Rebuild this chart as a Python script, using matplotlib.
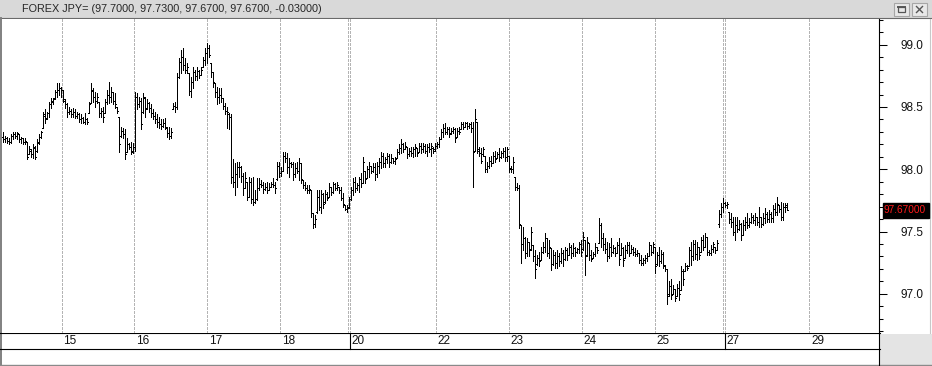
import numpy as np
import matplotlib
matplotlib.use('Agg')
import matplotlib.pyplot as plt
import matplotlib.transforms as mtransforms
from matplotlib.collections import LineCollection
from matplotlib.patches import Rectangle
from matplotlib.ticker import MultipleLocator, FormatStrFormatter

plt.rcParams['font.family'] = ['Liberation Sans', 'DejaVu Sans']

# OHLC bars (open, high, low, close), one list per day block
bars_14 = [
    (98.26, 98.30, 98.22, 98.24), (98.24, 98.27, 98.22, 98.25), (98.25, 98.26, 98.21, 98.23), (98.23, 98.25, 98.20, 98.22),
    (98.22, 98.28, 98.21, 98.27), (98.27, 98.30, 98.24, 98.28), (98.28, 98.30, 98.25, 98.27), (98.27, 98.30, 98.24, 98.29),
    (98.28, 98.28, 98.22, 98.24), (98.24, 98.26, 98.21, 98.25), (98.25, 98.25, 98.20, 98.22), (98.22, 98.25, 98.20, 98.23),
    (98.22, 98.22, 98.08, 98.10), (98.12, 98.19, 98.12, 98.16), (98.15, 98.16, 98.10, 98.12), (98.12, 98.20, 98.09, 98.18),
    (98.17, 98.19, 98.08, 98.10), (98.15, 98.24, 98.14, 98.22), (98.21, 98.28, 98.20, 98.26), (98.26, 98.31, 98.25, 98.30),
    (98.33, 98.46, 98.33, 98.44), (98.43, 98.48, 98.37, 98.40), (98.41, 98.46, 98.40, 98.45), (98.45, 98.54, 98.42, 98.52),
    (98.52, 98.57, 98.49, 98.55), (98.54, 98.57, 98.52, 98.56), (98.57, 98.64, 98.56, 98.62), (98.62, 98.69, 98.58, 98.64),
    (98.64, 98.69, 98.60, 98.65), (98.65, 98.66, 98.58, 98.64),
]
bars_15 = [
    (98.64, 98.64, 98.54, 98.56), (98.55, 98.56, 98.49, 98.52), (98.52, 98.53, 98.42, 98.46), (98.46, 98.50, 98.44, 98.47),
    (98.47, 98.48, 98.42, 98.44), (98.44, 98.49, 98.42, 98.46), (98.46, 98.48, 98.41, 98.43), (98.43, 98.46, 98.41, 98.44),
    (98.44, 98.45, 98.38, 98.40), (98.40, 98.44, 98.37, 98.41), (98.41, 98.42, 98.37, 98.38), (98.38, 98.45, 98.36, 98.40),
    (98.40, 98.41, 98.36, 98.38), (98.45, 98.54, 98.45, 98.52), (98.53, 98.69, 98.53, 98.64), (98.63, 98.65, 98.54, 98.58),
    (98.58, 98.62, 98.50, 98.55), (98.55, 98.61, 98.53, 98.58), (98.54, 98.54, 98.42, 98.45), (98.45, 98.49, 98.42, 98.47),
    (98.47, 98.50, 98.38, 98.42), (98.45, 98.56, 98.45, 98.54), (98.54, 98.64, 98.52, 98.60), (98.60, 98.70, 98.53, 98.58),
    (98.58, 98.66, 98.54, 98.62), (98.62, 98.62, 98.52, 98.55), (98.55, 98.61, 98.49, 98.52), (98.50, 98.50, 98.45, 98.47),
    (98.42, 98.42, 98.14, 98.20), (98.27, 98.34, 98.26, 98.31), (98.31, 98.33, 98.25, 98.28), (98.28, 98.32, 98.08, 98.12),
    (98.14, 98.25, 98.14, 98.20), (98.20, 98.21, 98.16, 98.18), (98.18, 98.22, 98.12, 98.14), (98.15, 98.21, 98.13, 98.18),
]
bars_16 = [
    (98.18, 98.62, 98.15, 98.58), (98.58, 98.61, 98.48, 98.52), (98.52, 98.58, 98.50, 98.55), (98.55, 98.57, 98.32, 98.36),
    (98.46, 98.61, 98.45, 98.58), (98.57, 98.58, 98.42, 98.48), (98.49, 98.56, 98.48, 98.53), (98.53, 98.54, 98.46, 98.49),
    (98.49, 98.52, 98.42, 98.45), (98.45, 98.48, 98.40, 98.43), (98.43, 98.46, 98.37, 98.40), (98.40, 98.44, 98.34, 98.38),
    (98.38, 98.42, 98.33, 98.36), (98.36, 98.40, 98.32, 98.35), (98.35, 98.40, 98.34, 98.37), (98.37, 98.41, 98.32, 98.34),
    (98.33, 98.34, 98.26, 98.29), (98.29, 98.34, 98.24, 98.27), (98.27, 98.33, 98.25, 98.30), (98.48, 98.53, 98.48, 98.51),
    (98.51, 98.54, 98.46, 98.50), (98.50, 98.77, 98.48, 98.74), (98.74, 98.89, 98.73, 98.86), (98.86, 98.96, 98.77, 98.90),
    (98.90, 98.97, 98.80, 98.84), (98.84, 98.89, 98.77, 98.80), (98.80, 98.85, 98.77, 98.82), (98.77, 98.77, 98.60, 98.63),
    (98.63, 98.74, 98.58, 98.70), (98.70, 98.82, 98.65, 98.78), (98.78, 98.80, 98.72, 98.75), (98.75, 98.82, 98.72, 98.79),
    (98.79, 98.80, 98.73, 98.76), (98.76, 98.82, 98.76, 98.80), (98.82, 98.90, 98.82, 98.88), (98.88, 98.97, 98.84, 98.93),
]
bars_17 = [
    (98.93, 99.01, 98.85, 98.97), (98.97, 99.00, 98.90, 98.92), (98.85, 98.85, 98.74, 98.78), (98.78, 98.78, 98.66, 98.70),
    (98.69, 98.69, 98.58, 98.62), (98.62, 98.66, 98.52, 98.58), (98.58, 98.65, 98.53, 98.60), (98.60, 98.65, 98.54, 98.57),
    (98.57, 98.57, 98.48, 98.51), (98.51, 98.53, 98.44, 98.47), (98.47, 98.50, 98.33, 98.46), (98.44, 98.45, 98.32, 98.42),
    (98.42, 98.44, 97.89, 97.94), (97.94, 98.08, 97.86, 97.90), (97.90, 98.05, 97.79, 97.96), (97.96, 98.06, 97.86, 98.02),
    (98.02, 98.06, 97.94, 98.02), (98.02, 98.03, 97.90, 97.95), (97.95, 97.97, 97.79, 97.85), (97.85, 97.98, 97.85, 97.93),
    (97.90, 97.90, 97.75, 97.78), (97.78, 97.94, 97.78, 97.90), (97.90, 97.93, 97.73, 97.76), (97.76, 97.94, 97.71, 97.74),
    (97.74, 97.83, 97.73, 97.76), (97.76, 97.93, 97.75, 97.85), (97.85, 97.93, 97.83, 97.88), (97.88, 97.91, 97.86, 97.87),
    (97.87, 97.90, 97.81, 97.84), (97.84, 97.89, 97.83, 97.86), (97.86, 97.90, 97.81, 97.83), (97.83, 97.89, 97.83, 97.86),
    (97.86, 97.90, 97.86, 97.88), (97.88, 97.93, 97.86, 97.87), (97.87, 97.90, 97.81, 97.85), (97.92, 98.06, 97.91, 98.03),
    (98.03, 98.06, 97.94, 97.97),
]
bars_18 = [
    (97.97, 98.02, 97.95, 97.99), (97.99, 98.14, 97.99, 98.11), (98.11, 98.14, 98.06, 98.09), (98.09, 98.13, 97.97, 98.02),
    (98.02, 98.09, 97.94, 98.05), (98.05, 98.06, 98.02, 98.04), (98.04, 98.06, 97.91, 97.96), (97.96, 98.05, 97.94, 98.01),
    (98.01, 98.06, 97.97, 97.99), (97.99, 98.09, 97.91, 98.05), (98.05, 98.05, 97.89, 97.92), (97.91, 97.91, 97.85, 97.87),
    (97.87, 97.90, 97.83, 97.85), (97.85, 97.87, 97.81, 97.83), (97.83, 97.87, 97.81, 97.84), (97.83, 97.83, 97.62, 97.65),
    (97.65, 97.65, 97.53, 97.56), (97.56, 97.63, 97.54, 97.60), (97.66, 97.83, 97.65, 97.78), (97.78, 97.83, 97.67, 97.70),
    (97.70, 97.83, 97.65, 97.80), (97.80, 97.81, 97.69, 97.72), (97.74, 97.83, 97.73, 97.80), (97.80, 97.82, 97.75, 97.77),
    (97.78, 97.89, 97.78, 97.86), (97.86, 97.86, 97.79, 97.82), (97.82, 97.90, 97.81, 97.88), (97.88, 97.89, 97.83, 97.85),
    (97.85, 97.90, 97.83, 97.87), (97.86, 97.86, 97.81, 97.83), (97.83, 97.86, 97.75, 97.77), (97.77, 97.81, 97.70, 97.72),
    (97.71, 97.71, 97.67, 97.68), (97.68, 97.71, 97.66, 97.69),
]
bars_20 = [
    (97.70, 97.78, 97.69, 97.76), (97.76, 97.86, 97.75, 97.83), (97.83, 97.93, 97.79, 97.90), (97.90, 97.94, 97.82, 97.85),
    (97.85, 97.89, 97.83, 97.87), (97.87, 97.94, 97.82, 97.92), (97.92, 97.97, 97.86, 97.89), (97.89, 98.10, 97.89, 98.06),
    (97.99, 97.99, 97.89, 97.92), (97.93, 98.03, 97.93, 98.00), (98.00, 98.06, 97.94, 98.03), (98.03, 98.03, 97.97, 97.99),
    (97.99, 98.05, 97.98, 98.02), (98.02, 98.05, 97.91, 97.96), (97.96, 98.06, 97.94, 98.03), (98.03, 98.09, 97.97, 98.06),
    (98.06, 98.14, 98.01, 98.11), (98.11, 98.13, 98.02, 98.05), (98.05, 98.10, 98.02, 98.08), (98.08, 98.13, 98.05, 98.11),
    (98.11, 98.12, 98.02, 98.06), (98.06, 98.12, 98.05, 98.09), (98.09, 98.09, 98.05, 98.07), (98.07, 98.10, 98.04, 98.08),
    (98.09, 98.16, 98.09, 98.14), (98.14, 98.20, 98.12, 98.17), (98.17, 98.24, 98.13, 98.20), (98.20, 98.21, 98.14, 98.16),
    (98.16, 98.22, 98.16, 98.19), (98.18, 98.18, 98.09, 98.12), (98.12, 98.17, 98.11, 98.15), (98.15, 98.18, 98.11, 98.13),
    (98.13, 98.18, 98.10, 98.16), (98.16, 98.20, 98.11, 98.18), (98.17, 98.17, 98.11, 98.13), (98.14, 98.21, 98.14, 98.19),
    (98.19, 98.21, 98.13, 98.16), (98.16, 98.21, 98.14, 98.19), (98.19, 98.20, 98.13, 98.15), (98.15, 98.20, 98.11, 98.18),
    (98.18, 98.21, 98.14, 98.16), (98.16, 98.21, 98.11, 98.19), (98.17, 98.18, 98.13, 98.15),
]
bars_22 = [
    (98.16, 98.21, 98.15, 98.19), (98.19, 98.22, 98.17, 98.20), (98.20, 98.26, 98.18, 98.24), (98.24, 98.32, 98.24, 98.30),
    (98.30, 98.36, 98.26, 98.33), (98.33, 98.37, 98.28, 98.30), (98.30, 98.34, 98.28, 98.32), (98.32, 98.34, 98.26, 98.28),
    (98.29, 98.33, 98.28, 98.31), (98.31, 98.34, 98.29, 98.32), (98.32, 98.33, 98.22, 98.25), (98.26, 98.33, 98.26, 98.31),
    (98.31, 98.34, 98.28, 98.30), (98.32, 98.38, 98.32, 98.36), (98.36, 98.38, 98.32, 98.34), (98.34, 98.38, 98.34, 98.37),
    (98.37, 98.38, 98.32, 98.35), (98.35, 98.37, 98.33, 98.36), (98.36, 98.38, 98.30, 98.33), (98.33, 98.38, 97.86, 98.14),
    (98.15, 98.48, 98.15, 98.40), (98.38, 98.38, 98.13, 98.15), (98.16, 98.18, 98.11, 98.13), (98.13, 98.17, 98.05, 98.07),
    (98.12, 98.18, 98.11, 98.16), (98.11, 98.11, 97.98, 98.00), (98.00, 98.06, 97.98, 98.03), (98.03, 98.10, 98.01, 98.07),
    (98.07, 98.11, 98.03, 98.05), (98.05, 98.14, 98.05, 98.11), (98.11, 98.15, 98.06, 98.08), (98.09, 98.14, 98.09, 98.12),
    (98.12, 98.17, 98.07, 98.10), (98.10, 98.15, 98.09, 98.13), (98.13, 98.17, 98.10, 98.15), (98.15, 98.18, 98.07, 98.10),
    (98.10, 98.18, 98.07, 98.16),
]
bars_23 = [
    (98.11, 98.11, 97.98, 98.00), (98.01, 98.03, 97.98, 98.00), (98.00, 98.10, 97.97, 98.06), (97.94, 97.94, 97.83, 97.86),
    (97.86, 97.89, 97.83, 97.85), (97.85, 97.87, 97.53, 97.56), (97.55, 97.55, 97.25, 97.40), (97.40, 97.54, 97.35, 97.45),
    (97.45, 97.46, 97.29, 97.33), (97.33, 97.45, 97.30, 97.42), (97.42, 97.42, 97.30, 97.35), (97.36, 97.54, 97.35, 97.50),
    (97.39, 97.39, 97.26, 97.30), (97.30, 97.35, 97.13, 97.20), (97.24, 97.31, 97.23, 97.29), (97.29, 97.34, 97.22, 97.26),
    (97.27, 97.38, 97.27, 97.34), (97.34, 97.42, 97.33, 97.38), (97.38, 97.49, 97.34, 97.45), (97.45, 97.45, 97.30, 97.33),
    (97.33, 97.43, 97.29, 97.38), (97.37, 97.37, 97.19, 97.24), (97.24, 97.35, 97.23, 97.31), (97.31, 97.34, 97.21, 97.25),
    (97.25, 97.35, 97.21, 97.30), (97.30, 97.33, 97.22, 97.26), (97.26, 97.37, 97.25, 97.33), (97.33, 97.35, 97.22, 97.28),
    (97.28, 97.38, 97.27, 97.35), (97.35, 97.37, 97.27, 97.31), (97.31, 97.41, 97.31, 97.38), (97.38, 97.39, 97.29, 97.33),
    (97.33, 97.41, 97.30, 97.37), (97.37, 97.38, 97.30, 97.34), (97.34, 97.37, 97.33, 97.36), (97.36, 97.42, 97.33, 97.40),
    (97.40, 97.43, 97.30, 97.34),
]
bars_24 = [
    (97.36, 97.50, 97.35, 97.46), (97.43, 97.43, 97.15, 97.30), (97.31, 97.46, 97.30, 97.42), (97.41, 97.41, 97.27, 97.31),
    (97.31, 97.35, 97.26, 97.28), (97.29, 97.34, 97.29, 97.32), (97.32, 97.41, 97.30, 97.38), (97.38, 97.38, 97.33, 97.35),
    (97.41, 97.61, 97.41, 97.55), (97.55, 97.57, 97.38, 97.45), (97.45, 97.49, 97.35, 97.40), (97.40, 97.45, 97.33, 97.36),
    (97.36, 97.42, 97.26, 97.30), (97.30, 97.41, 97.29, 97.38), (97.38, 97.45, 97.30, 97.34), (97.34, 97.39, 97.33, 97.37),
    (97.37, 97.38, 97.30, 97.33), (97.33, 97.42, 97.33, 97.39), (97.39, 97.45, 97.23, 97.28), (97.31, 97.41, 97.31, 97.37),
    (97.37, 97.38, 97.22, 97.27), (97.29, 97.39, 97.29, 97.35), (97.35, 97.42, 97.33, 97.39), (97.39, 97.42, 97.30, 97.33),
    (97.33, 97.39, 97.33, 97.36), (97.36, 97.38, 97.31, 97.34), (97.34, 97.37, 97.30, 97.32), (97.32, 97.35, 97.30, 97.33),
    (97.33, 97.33, 97.25, 97.27), (97.27, 97.31, 97.23, 97.25), (97.25, 97.29, 97.23, 97.27), (97.27, 97.31, 97.25, 97.29),
    (97.29, 97.33, 97.26, 97.30), (97.30, 97.42, 97.30, 97.39), (97.39, 97.39, 97.31, 97.34), (97.34, 97.42, 97.33, 97.40),
]
bars_25 = [
    (97.38, 97.38, 97.17, 97.22), (97.24, 97.34, 97.23, 97.31), (97.31, 97.38, 97.22, 97.26), (97.26, 97.35, 97.25, 97.32),
    (97.32, 97.34, 97.21, 97.23), (97.22, 97.23, 97.18, 97.20), (97.20, 97.20, 96.92, 96.98), (97.00, 97.10, 96.98, 97.06),
    (97.06, 97.12, 96.96, 96.99), (97.00, 97.07, 97.00, 97.04), (97.04, 97.04, 96.94, 96.97), (96.98, 97.08, 96.98, 97.05),
    (97.05, 97.10, 96.95, 97.00), (97.03, 97.22, 97.03, 97.18), (97.18, 97.20, 97.07, 97.12), (97.18, 97.25, 97.18, 97.22),
    (97.22, 97.23, 97.19, 97.21), (97.22, 97.38, 97.22, 97.35), (97.35, 97.42, 97.23, 97.30), (97.30, 97.43, 97.27, 97.40),
    (97.40, 97.43, 97.28, 97.32), (97.32, 97.42, 97.27, 97.38), (97.38, 97.38, 97.28, 97.31), (97.34, 97.46, 97.34, 97.43),
    (97.43, 97.47, 97.35, 97.38), (97.38, 97.49, 97.38, 97.46), (97.46, 97.46, 97.31, 97.34), (97.34, 97.35, 97.31, 97.33),
    (97.33, 97.39, 97.31, 97.36), (97.36, 97.42, 97.34, 97.40), (97.38, 97.38, 97.33, 97.35), (97.35, 97.43, 97.35, 97.41),
    (97.56, 97.67, 97.54, 97.64), (97.64, 97.73, 97.62, 97.70),
]
bars_27 = [
    (97.70, 97.77, 97.66, 97.73), (97.73, 97.74, 97.70, 97.71), (97.71, 97.74, 97.69, 97.72), (97.66, 97.66, 97.57, 97.60),
    (97.60, 97.65, 97.54, 97.58), (97.58, 97.62, 97.47, 97.50), (97.50, 97.62, 97.43, 97.55), (97.55, 97.62, 97.50, 97.52),
    (97.52, 97.59, 97.51, 97.56), (97.56, 97.57, 97.43, 97.47), (97.47, 97.59, 97.47, 97.55), (97.55, 97.62, 97.51, 97.58),
    (97.58, 97.65, 97.53, 97.55), (97.55, 97.61, 97.54, 97.58), (97.58, 97.65, 97.57, 97.62), (97.62, 97.63, 97.57, 97.59),
    (97.59, 97.65, 97.55, 97.62), (97.62, 97.62, 97.55, 97.58), (97.58, 97.70, 97.54, 97.62), (97.62, 97.62, 97.54, 97.56),
    (97.56, 97.65, 97.55, 97.61), (97.61, 97.69, 97.57, 97.64), (97.64, 97.66, 97.58, 97.60), (97.60, 97.67, 97.58, 97.64),
    (97.64, 97.66, 97.58, 97.61), (97.61, 97.71, 97.58, 97.68), (97.68, 97.73, 97.63, 97.66), (97.66, 97.78, 97.63, 97.72),
    (97.71, 97.71, 97.66, 97.68), (97.68, 97.74, 97.59, 97.62), (97.62, 97.73, 97.59, 97.70), (97.70, 97.73, 97.66, 97.71),
    (97.70, 97.73, 97.67, 97.67),
]

# day boundaries on the bar axis, and their labels
day_labels = ['15', '16', '17', '18', '20', '22', '23', '24', '25', '27', '29']
day_pos = [29.35, 65.65, 102.15, 138.65, 173.35, 216.35, 252.85, 289.35, 325.85, 360.85, 403.15]
week_breaks = [172.35, 359.85]

title_text = 'FOREX JPY= (97.7000, 97.7300, 97.6700, 97.6700, -0.03000)'

bars = (bars_14 + bars_15 + bars_16 + bars_17 + bars_18 + bars_20 + bars_22
        + bars_23 + bars_24 + bars_25 + bars_27)
o, h, l, c = np.array(bars).T
x = np.arange(len(bars))

W, H = 932, 366
fig = plt.figure(figsize=(W / 100, H / 100), dpi=100)
fig.patch.set_facecolor('white')

# background layer in pixel coordinates for the window chrome
bg = fig.add_axes([0, 0, 1, 1], zorder=0)
bg.set_xlim(0, W)
bg.set_ylim(H, 0)
bg.axis('off')

bg.add_patch(Rectangle((0, 0), W, 18, color='#d9d9d9', lw=0))
bg.plot([0, W], [18, 18], color='#6a6a6a', lw=0.8)
bg.plot([0.7, 0.7], [18, H], color='#808080', lw=1.4)
bg.text(22, 9.5, title_text, fontsize=7.8, color='#262626', va='center', ha='left')

# window buttons
for bx in (894, 912):
    bg.add_patch(Rectangle((bx, 3), 15, 12.5, facecolor='#e8e8e8', edgecolor='#a6a6a6', lw=0.8))
bg.add_patch(Rectangle((898, 6.5), 7, 5.5, facecolor='none', edgecolor='#555555', lw=0.9))
bg.plot([898, 905], [7, 7], color='#555555', lw=1.4)
bg.plot([916.5, 922.5], [6.5, 12.5], color='#555555', lw=1.0)
bg.plot([916.5, 922.5], [12.5, 6.5], color='#555555', lw=1.0)

# right-hand panel and bottom bands
bg.plot([930, 930], [19, 333], color='#c8c8c8', lw=0.8)
bg.add_patch(Rectangle((879.5, 333.5), W - 879.5, H - 333.5, color='#e4e4e4', lw=0))
bg.plot([0, 879.5], [333, 333], color='black', lw=0.8)
bg.plot([0, 879.5], [349, 349], color='black', lw=0.8)
bg.plot([0, W], [365.3, 365.3], color='#8a8a8a', lw=1.0)
bg.plot([879.3, 879.3], [333, H], color='black', lw=0.8)

# main price axes
ax = fig.add_axes([2 / W, 1 - 333 / H, 877 / W, 314 / H], zorder=1)
ax.set_facecolor('white')
ax.set_xlim(-0.5, 438)
ax.set_ylim(96.686, 99.206)

for gx in day_pos + week_breaks:
    ax.axvline(gx, color='#b4b4b4', lw=0.65, linestyle=(0, (3, 2)), antialiased=False, zorder=1)

segs = []
for xi, oi, hi, li, ci in zip(x, o, h, l, c):
    segs.append([(xi, li), (xi, hi)])
    segs.append([(xi - 0.5, oi), (xi, oi)])
    segs.append([(xi, ci), (xi + 0.5, ci)])
ax.add_collection(LineCollection(segs, colors='black', linewidths=0.62, antialiased=False,
                                 capstyle='butt', zorder=3))

for side in ('left', 'top', 'bottom'):
    ax.spines[side].set_visible(False)
ax.spines['right'].set_color('black')
ax.spines['right'].set_linewidth(0.8)
ax.set_xticks([])
ax.yaxis.tick_right()
ax.set_yticks([97.0, 97.5, 98.0, 98.5, 99.0])
ax.yaxis.set_major_formatter(FormatStrFormatter('%.1f'))
ax.yaxis.set_minor_locator(MultipleLocator(0.1))
ax.tick_params(axis='y', which='major', direction='out', length=5.8, width=0.75, pad=10,
               labelsize=8.5, labelcolor='#111111')
ax.tick_params(axis='y', which='minor', direction='out', length=2.9, width=0.75)

# last price tag
last = c[-1]
tr = mtransforms.blended_transform_factory(ax.transAxes, ax.transData)
ax.add_patch(Rectangle((1 + 4 / 877, last - 0.06), 46 / 877, 0.12, transform=tr,
                       color='black', clip_on=False, zorder=5))
ax.text(1 + 5 / 877, last, '%.5f' % last, transform=tr, color='#ff1a1a', fontsize=7.3,
        va='center', ha='left', clip_on=False, zorder=6)

# date labels band
dtr = mtransforms.blended_transform_factory(ax.transData, bg.transData)
for lab, gx in zip(day_labels, day_pos):
    bg.text(gx + 0.9, 341.5, lab, transform=dtr, fontsize=8.5, color='#111111',
            va='center', ha='left', clip_on=False)
for gx in (day_pos[4], day_pos[9]):
    bg.plot([gx, gx], [333, 349], transform=dtr, color='black', lw=0.8, clip_on=False)

fig.savefig('out.png', dpi=100, facecolor='white')
